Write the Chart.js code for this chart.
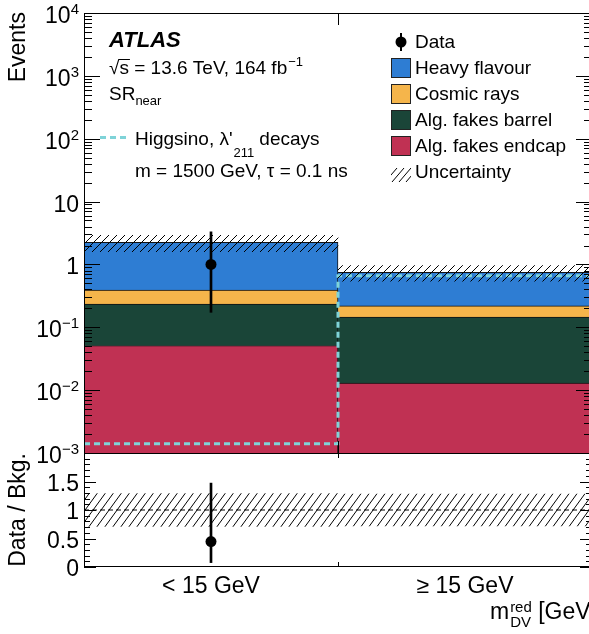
<!DOCTYPE html>
<html>
<head>
<meta charset="utf-8">
<script src="https://cdn.jsdelivr.net/npm/chart.js@4/dist/chart.umd.min.js"></script>
<style>
  html, body { margin: 0; padding: 0; background: #fff; overflow: hidden; }
  #wrap { position: relative; width: 589px; height: 634px; overflow: hidden; }
  canvas { display: block; }
</style>
</head>
<body>
<div id="wrap"><canvas id="plot" width="600" height="634"></canvas></div>
<script>
// ---- histogram content (events per bin) ----
const binLabels = ['< 15 GeV', '\u2265 15 GeV'];
const binEdges = [0, 1, 2];
const binCentres = [0.5, 1.5];

const algFakesEndcap = [0.051, 0.0129];
const algFakesBarrel = [0.183, 0.132];
const cosmicRays = [0.158, 0.074];
const heavyFlavour = [1.85, 0.531];
const bkgUncertainty = [0.65, 0.21];

const dataEvents = [1, null];
const dataErrDown = [0.827, null];
const dataErrUp = [2.30, null];

const higgsinoSignal = [0.0014, 0.66];

// ---- axis tick labels ----
const logTickExponents = [-3, -2, -1, 0, 1, 2, 3, 4];
const ratioTickValues = [0, 0.5, 1, 1.5];

// ---- styling ----
const FONT = '"Liberation Sans", Arial, Helvetica, sans-serif';
const COLORS = {
  endcap: '#c03153',
  barrel: '#1a4538',
  cosmic: '#f5b54b',
  heavy: '#2e7dd3',
  signal: '#7fd3d8'
};

const canvas = document.getElementById('plot');
const ctx2d = canvas.getContext('2d');

function hatch(w, h) {
  const c = document.createElement('canvas');
  c.width = w; c.height = h;
  const g = c.getContext('2d');
  g.strokeStyle = '#000';
  g.lineWidth = 1;
  g.beginPath();
  for (const dx of [-w, 0, w]) { g.moveTo(dx, h); g.lineTo(dx + w, 0); }
  g.stroke();
  return ctx2d.createPattern(c, 'repeat');
}
const hatchMain = hatch(8, 8);
const hatchRatio = hatch(8, 11);

// ---- stacked background built from the component arrays ----
const layers = [
  { label: 'Alg. fakes endcap', values: algFakesEndcap, color: COLORS.endcap },
  { label: 'Alg. fakes barrel', values: algFakesBarrel, color: COLORS.barrel },
  { label: 'Cosmic rays', values: cosmicRays, color: COLORS.cosmic },
  { label: 'Heavy flavour', values: heavyFlavour, color: COLORS.heavy }
];
let running = binCentres.map(() => 0);
const stackDatasets = layers.map((layer, k) => {
  const lo = running.slice();
  running = running.map((r, i) => r + layer.values[i]);
  const hi = running.slice();
  return {
    type: 'bar',
    label: layer.label,
    data: binCentres.map((x, i) => ({ x, y: k === 0 ? hi[i] : [lo[i], hi[i]] })),
    backgroundColor: layer.color,
    borderColor: '#111',
    borderWidth: { top: 1, right: 1, left: 0, bottom: 0 },
    borderSkipped: false,
    grouped: false,
    barPercentage: 1,
    categoryPercentage: 1,
    xAxisID: 'x', yAxisID: 'y',
    order: 20 + k
  };
});
const bkgTotal = running;

const validBins = binCentres.map((_, i) => i).filter(i => dataEvents[i] !== null);

const datasets = [
  // data points
  {
    type: 'line', label: 'Data', showLine: false,
    data: validBins.map(i => ({ x: binCentres[i], y: dataEvents[i] })),
    pointRadius: 5.5, pointBackgroundColor: '#000', pointBorderWidth: 0,
    xAxisID: 'x', yAxisID: 'y', order: 0
  },
  {
    type: 'line', label: 'Data / Bkg.', showLine: false,
    data: validBins.map(i => ({ x: binCentres[i], y: dataEvents[i] / bkgTotal[i] })),
    pointRadius: 5.5, pointBackgroundColor: '#000', pointBorderWidth: 0,
    xAxisID: 'x', yAxisID: 'yr', order: 0
  },
  // Poisson error bars
  {
    type: 'bar', label: 'Data error',
    data: validBins.map(i => ({ x: binCentres[i], y: [dataEvents[i] - dataErrDown[i], dataEvents[i] + dataErrUp[i]] })),
    backgroundColor: '#000', barThickness: 2, grouped: false, borderWidth: 0,
    xAxisID: 'x', yAxisID: 'y', order: 1
  },
  {
    type: 'bar', label: 'Ratio error',
    data: validBins.map(i => ({ x: binCentres[i], y: [(dataEvents[i] - dataErrDown[i]) / bkgTotal[i], (dataEvents[i] + dataErrUp[i]) / bkgTotal[i]] })),
    backgroundColor: '#000', barThickness: 2, grouped: false, borderWidth: 0,
    xAxisID: 'x', yAxisID: 'yr', order: 1
  },
  // unity line in the ratio panel
  {
    type: 'line', label: 'Unity',
    data: [{ x: binEdges[0], y: 1 }, { x: binEdges[binEdges.length - 1], y: 1 }],
    borderColor: '#000', borderWidth: 1.2, borderDash: [5, 3], pointRadius: 0,
    xAxisID: 'x', yAxisID: 'yr', order: 2
  },
  // background uncertainty bands
  {
    type: 'bar', label: 'Uncertainty',
    data: binCentres.map((x, i) => ({ x, y: [bkgTotal[i] - bkgUncertainty[i], bkgTotal[i] + bkgUncertainty[i]] })),
    backgroundColor: hatchMain, borderWidth: 0, grouped: false,
    barPercentage: 1, categoryPercentage: 1,
    xAxisID: 'x', yAxisID: 'y', order: 3
  },
  {
    type: 'bar', label: 'Ratio uncertainty',
    data: binCentres.map((x, i) => ({ x, y: [1 - bkgUncertainty[i] / bkgTotal[i], 1 + bkgUncertainty[i] / bkgTotal[i]] })),
    backgroundColor: hatchRatio, borderWidth: 0, grouped: false,
    barPercentage: 1, categoryPercentage: 1,
    xAxisID: 'x', yAxisID: 'yr', order: 3
  },
  // signal as a step histogram
  {
    type: 'line', label: 'Higgsino',
    data: binEdges.map((x, i) => ({ x, y: higgsinoSignal[Math.min(i, higgsinoSignal.length - 1)] })),
    stepped: true,
    borderColor: COLORS.signal, borderWidth: 3, borderDash: [6, 4], pointRadius: 0,
    xAxisID: 'x', yAxisID: 'y', order: 4
  },
  ...stackDatasets
];

function sup(ctx, base, exp, xRight, yBase, big, small) {
  ctx.textAlign = 'left';
  ctx.font = small + 'px ' + FONT;
  const we = ctx.measureText(exp).width;
  ctx.font = big + 'px ' + FONT;
  const wb = ctx.measureText(base).width;
  const x0 = xRight - we - wb;
  ctx.fillText(base, x0, yBase);
  ctx.font = small + 'px ' + FONT;
  ctx.fillText(exp, x0 + wb, yBase - 9);
}

const histAxes = {
  id: 'histAxes',
  afterDraw(chart) {
    const { ctx } = chart;
    const { x, y, yr } = chart.scales;
    const L = Math.round(x.left), R = Math.round(x.right);
    const T = Math.round(y.top), M = Math.round(y.bottom), B = Math.round(yr.bottom);
    ctx.save();
    ctx.strokeStyle = '#000';
    ctx.fillStyle = '#000';
    ctx.lineWidth = 1;

    // frames
    ctx.strokeRect(L + 0.5, T + 0.5, R - L - 1, M - T);
    ctx.strokeRect(L + 0.5, M + 0.5, R - L - 1, B - M - 1);

    const hline = (x0, x1, py) => { ctx.beginPath(); ctx.moveTo(x0, Math.round(py) + 0.5); ctx.lineTo(x1, Math.round(py) + 0.5); ctx.stroke(); };
    const vline = (px, y0, y1) => { ctx.beginPath(); ctx.moveTo(Math.round(px) + 0.5, y0); ctx.lineTo(Math.round(px) + 0.5, y1); ctx.stroke(); };

    // log-axis ticks
    for (let e = logTickExponents[0]; e < logTickExponents[logTickExponents.length - 1]; e++) {
      for (let m = 1; m <= 9; m++) {
        const v = m * Math.pow(10, e);
        const py = y.getPixelForValue(v);
        const len = m === 1 ? 16 : 8;
        hline(L, L + len, py);
        hline(R - len, R, py);
      }
    }
    // ratio-axis ticks
    for (let k = 0; k <= 20; k++) {
      const v = k / 10;
      const py = yr.getPixelForValue(v);
      const len = k % 5 === 0 ? 12 : 6;
      hline(L, L + len, py);
      hline(R - len, R, py);
    }
    // x ticks at inner bin edges
    for (const edge of binEdges.slice(1, -1)) {
      const px = x.getPixelForValue(edge);
      vline(px, T, T + 12);
      vline(px, M - 12, M);
      vline(px, M, M + 5);
      vline(px, B - 5, B);
    }

    // y tick labels
    ctx.textBaseline = 'alphabetic';
    for (const e of logTickExponents) {
      const py = y.getPixelForValue(Math.pow(10, e));
      const base = py + 10;
      if (e === 0 || e === 1) {
        ctx.textAlign = 'right';
        ctx.font = '23px ' + FONT;
        ctx.fillText(e === 0 ? '1' : '10', 79, base);
      } else {
        sup(ctx, '10', (e < 0 ? '\u2212' : '') + Math.abs(e), 79, base, 23, 15);
      }
    }
    ctx.textAlign = 'right';
    ctx.font = '23px ' + FONT;
    for (const v of ratioTickValues) {
      const py = yr.getPixelForValue(v);
      ctx.fillText(String(v), 79, py + 9);
    }

    // category labels
    ctx.textAlign = 'center';
    binLabels.forEach((lab, i) => {
      ctx.fillText(lab, x.getPixelForValue(binCentres[i]), 593);
    });

    // axis titles
    ctx.save();
    ctx.translate(25, T - 1);
    ctx.rotate(-Math.PI / 2);
    ctx.textAlign = 'right';
    ctx.fillText('Events', 0, 0);
    ctx.restore();
    ctx.save();
    ctx.translate(25, M);
    ctx.rotate(-Math.PI / 2);
    ctx.textAlign = 'right';
    ctx.fillText('Data / Bkg.', 0, 0);
    ctx.restore();

    // x-axis title  m_DV^red [GeV]
    ctx.textAlign = 'right';
    ctx.font = '23px ' + FONT;
    const unitW = ctx.measureText(' [GeV]').width;
    ctx.fillText(' [GeV]', 597, 619);
    ctx.font = '15px ' + FONT;
    const scriptW = Math.max(ctx.measureText('red').width, ctx.measureText('DV').width);
    const scriptX = 597 - unitW - scriptW;
    ctx.textAlign = 'left';
    ctx.fillText('red', scriptX, 612);
    ctx.fillText('DV', scriptX, 627);
    ctx.textAlign = 'right';
    ctx.font = '23px ' + FONT;
    ctx.fillText('m', scriptX - 1, 619);

    // labels in the top-left corner
    ctx.textAlign = 'left';
    ctx.font = 'italic bold 22px ' + FONT;
    ctx.fillText('ATLAS', 109, 47);
    ctx.font = '19px ' + FONT;
    const s1 = '\u221As = 13.6 TeV, 164 fb';
    ctx.fillText(s1, 109, 74);
    const w1 = ctx.measureText(s1).width;
    const wr = ctx.measureText('\u221A').width;
    const ws = ctx.measureText('s').width;
    ctx.beginPath();
    ctx.moveTo(109 + wr - 1, 59.5);
    ctx.lineTo(109 + wr + ws + 1, 59.5);
    ctx.stroke();
    ctx.font = '13px ' + FONT;
    ctx.fillText('\u22121', 109 + w1 + 1, 66);
    ctx.font = '19px ' + FONT;
    ctx.fillText('SR', 109, 100);
    const wsr = ctx.measureText('SR').width;
    ctx.font = '13px ' + FONT;
    ctx.fillText('near', 109 + wsr, 105);

    // signal legend
    ctx.save();
    ctx.strokeStyle = COLORS.signal;
    ctx.lineWidth = 3;
    ctx.setLineDash([6, 4]);
    ctx.beginPath();
    ctx.moveTo(100, 137.5);
    ctx.lineTo(130, 137.5);
    ctx.stroke();
    ctx.restore();
    ctx.font = '19px ' + FONT;
    const sig1 = 'Higgsino, \u03BB\'';
    ctx.fillText(sig1, 135, 145);
    const wsig = ctx.measureText(sig1).width;
    ctx.font = '13px ' + FONT;
    ctx.fillText('211', 135 + wsig + 1, 157);
    const w211 = ctx.measureText('211').width;
    ctx.font = '19px ' + FONT;
    ctx.fillText('decays', 135 + wsig + w211 + 6, 145);
    ctx.fillText('m = 1500 GeV, \u03C4 = 0.1 ns', 135, 177);

    // legend on the right
    const entries = [
      { label: 'Data', kind: 'data' },
      { label: 'Heavy flavour', kind: 'box', color: COLORS.heavy },
      { label: 'Cosmic rays', kind: 'box', color: COLORS.cosmic },
      { label: 'Alg. fakes barrel', kind: 'box', color: COLORS.barrel },
      { label: 'Alg. fakes endcap', kind: 'box', color: COLORS.endcap },
      { label: 'Uncertainty', kind: 'hatch' }
    ];
    entries.forEach((en, i) => {
      const base = 48 + 26 * i;
      const top = base - 16;
      if (en.kind === 'data') {
        ctx.fillStyle = '#000';
        ctx.fillRect(400, top + 1, 2, 18);
        ctx.beginPath();
        ctx.arc(401, top + 10, 5.5, 0, Math.PI * 2);
        ctx.fill();
      } else if (en.kind === 'box') {
        ctx.fillStyle = en.color;
        ctx.fillRect(391, top, 20, 20);
        ctx.strokeStyle = '#222';
        ctx.strokeRect(391.5, top + 0.5, 19, 19);
      } else {
        ctx.save();
        ctx.beginPath();
        ctx.rect(391, top, 20, 20);
        ctx.clip();
        ctx.strokeStyle = '#000';
        ctx.lineWidth = 1;
        ctx.beginPath();
        for (let k = -20; k < 40; k += 7) {
          ctx.moveTo(391 + k, top + 20);
          ctx.lineTo(391 + k + 12, top + 6);
        }
        ctx.stroke();
        ctx.restore();
      }
      ctx.fillStyle = '#000';
      ctx.font = '19px ' + FONT;
      ctx.textAlign = 'left';
      ctx.fillText(en.label, 415, base);
    });
    ctx.restore();
  }
};

new Chart(canvas, {
  type: 'bar',
  data: { datasets },
  options: {
    responsive: false,
    animation: false,
    devicePixelRatio: 1,
    layout: { padding: { left: 84, right: 8, top: 13, bottom: 67 } },
    plugins: { legend: { display: false }, tooltip: { enabled: false } },
    scales: {
      x: { type: 'linear', min: 0, max: 2, offset: false, display: false,
           ticks: { stepSize: 1 }, grid: { offset: false } },
      // left-positioned stacked axes are laid out last-defined on top
      yr: { type: 'linear', min: 0, max: 2, display: false, beginAtZero: true,
            stacked: false, stack: 'panels', stackWeight: 114, position: 'left' },
      y: { type: 'logarithmic', min: 1e-3, max: 1e4, display: false,
           stacked: false, stack: 'panels', stackWeight: 440, position: 'left' }
    }
  },
  plugins: [histAxes]
});
</script>
</body>
</html>
